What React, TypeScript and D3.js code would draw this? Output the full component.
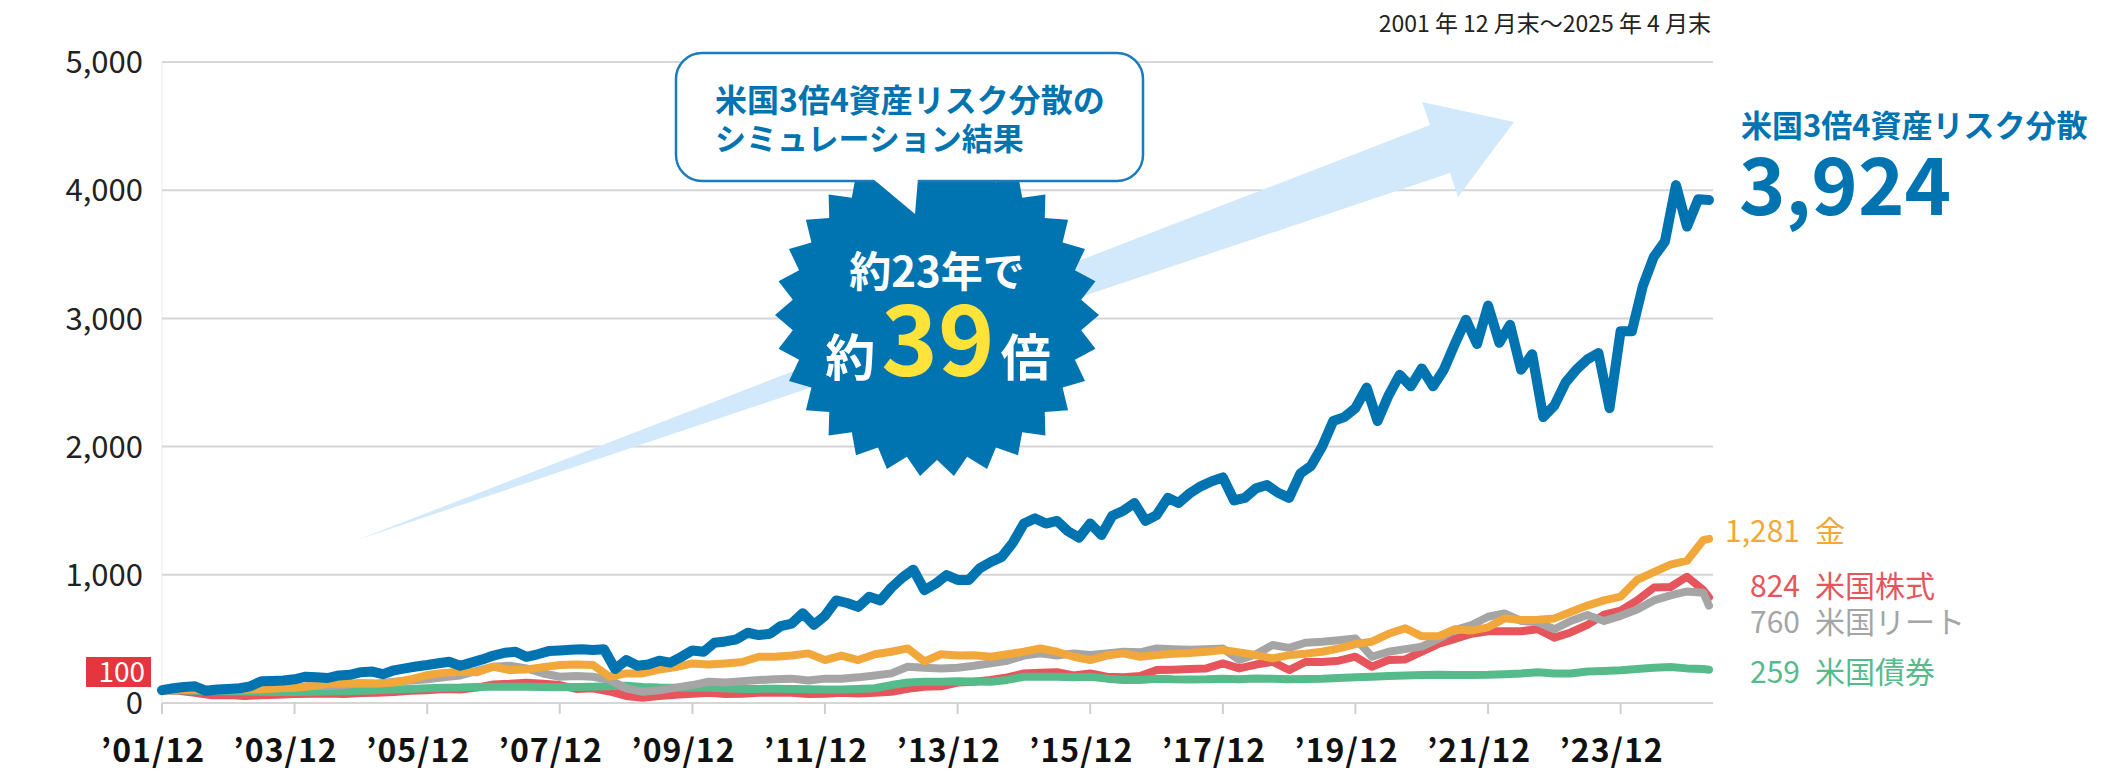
import { useRef, useEffect } from 'react'
import * as d3 from 'd3'

const W = 2104
const H = 780
const FONT = '"Noto Sans CJK JP", "Noto Sans", sans-serif'

// Axis
const yTicks = [0, 1000, 2000, 3000, 4000, 5000]
const tickYears = [2001, 2003, 2005, 2007, 2009, 2011, 2013, 2015, 2017, 2019, 2021, 2023]

// 米国3倍4資産リスク分散 (every 2 months, 2001/12 - 2025/04)
const riskParity = [
  100, 115, 125, 130, 95, 105, 110, 115, 130, 170, 172, 175, 185, 205, 200, 195, 215, 220, 240, 245,
  225, 255, 270, 285, 296, 310, 322, 290, 315, 340, 370, 392, 400, 360, 380, 405, 410, 415, 420, 413,
  419, 265, 335, 290, 300, 330, 315, 360, 410, 400, 470, 480, 497, 548, 530, 540, 600, 620, 700, 610,
  680, 800, 780, 750, 829, 800, 900, 980, 1040, 880, 930, 998, 960, 960, 1050, 1100, 1140, 1250, 1400, 1440,
  1400, 1420, 1340, 1290, 1400, 1310, 1460, 1500, 1560, 1420, 1466, 1600, 1560, 1635, 1690, 1730, 1760, 1580, 1600, 1674,
  1700, 1640, 1600, 1790, 1850, 2000, 2200, 2230, 2300, 2460, 2200, 2400, 2560, 2470, 2610, 2470, 2600, 2800, 2990, 2800,
  3100, 2810, 2950, 2600, 2720, 2230, 2320, 2500, 2600, 2680, 2730, 2300, 2900, 2900, 3250, 3480, 3600, 4040, 3716, 3930,
  3924,
]

// quarterly, 2001/12 - 2025/03, then 2025/04
const gold = [
  100, 105, 103, 105, 110, 112, 108, 115, 118, 130, 150, 152, 155, 152, 160, 185, 218, 235, 244, 240,
  283, 257, 262, 280, 296, 300, 296, 205, 231, 231, 260, 280, 309, 300, 309, 320, 361, 361, 370, 387,
  335, 370, 335, 380, 400, 426, 325, 380, 370, 372, 361, 380, 400, 426, 400, 361, 335, 370, 387, 361,
  374, 385, 390, 400, 413, 395, 374, 348, 374, 385, 400, 426, 460, 478, 540, 583, 520, 520, 575, 565,
  590, 660, 647, 650, 660, 710, 760, 800, 830, 960, 1020, 1080, 1110, 1271, 1281,
]
const usStocks = [
  100, 95, 80, 60, 62, 55, 60, 65, 70, 72, 75, 70, 78, 80, 85, 95, 100, 110, 105, 120,
  145, 150, 159, 150, 140, 110, 115, 90, 55, 40, 55, 65, 72, 80, 70, 72, 80, 82, 80, 70,
  72, 80, 75, 80, 88, 110, 127, 130, 160, 165, 179, 200, 231, 235, 240, 215, 231, 205, 200, 210,
  257, 260, 265, 270, 309, 270, 300, 322, 257, 320, 320, 330, 361, 283, 335, 340, 400, 460, 500, 540,
  560, 560, 560, 575, 510, 550, 610, 690, 720, 800, 900, 905, 985, 880, 824,
]
const usReit = [
  100, 105, 110, 100, 100, 100, 110, 115, 120, 135, 130, 140, 155, 150, 165, 175, 185, 200, 215, 250,
  283, 290, 270, 230, 205, 210, 205, 180, 114, 88, 100, 120, 140, 166, 160, 170, 179, 185, 190, 175,
  190, 190, 200, 215, 231, 283, 275, 270, 275, 290, 309, 330, 370, 387, 370, 387, 374, 387, 400, 395,
  426, 420, 415, 420, 426, 335, 380, 452, 430, 470, 478, 490, 504, 361, 400, 420, 440, 500, 569, 608,
  673, 699, 640, 630, 575, 640, 686, 640, 680, 730, 800, 840, 870, 860, 760,
]
const usBonds = [
  100, 100, 95, 95, 92, 90, 88, 85, 85, 88, 90, 92, 95, 100, 105, 110, 115, 118, 120, 125,
  127, 127, 127, 125, 123, 125, 127, 130, 135, 125, 120, 118, 120, 118, 115, 110, 110, 112, 110, 108,
  105, 105, 110, 115, 140, 160, 166, 166, 170, 168, 166, 180, 205, 205, 205, 200, 205, 190, 179, 180,
  190, 185, 183, 185, 190, 185, 192, 190, 185, 188, 190, 195, 200, 205, 210, 215, 218, 220, 218, 218,
  220, 225, 231, 240, 231, 230, 245, 250, 255, 265, 275, 280, 270, 265, 259,
]

const endValues = ['1,281', '824', '760', '259']
const endNames = ['金', '米国株式', '米国リート', '米国債券']

const BLUE = '#0073b1'
const ORANGE = '#f2a73b'
const RED = '#e6555c'
const GRAY = '#a5a5a5'
const GREEN = '#56bb8b'

export default function App() {
  const svgRef = useRef<SVGSVGElement>(null)

  useEffect(() => {
    if (!svgRef.current) return
    const svg = d3.select(svgRef.current)
    svg.selectAll('*').remove()
    svg.attr('width', W).attr('height', H)

    const start = new Date(2001, 11, 1)
    const end = new Date(2025, 3, 1)
    const x = d3.scaleTime().domain([start, end]).range([162, 1709])
    const y = d3.scaleLinear().domain([0, 5000]).range([703, 62])

    const biMonthly = riskParity.map((_, i) => new Date(2001, 11 + i * 2, 1))
    const quarterly = gold.map((_, i) => (i < gold.length - 1 ? new Date(2001, 11 + i * 3, 1) : end))

    // grid
    svg.append('line')
      .attr('x1', 162).attr('x2', 162).attr('y1', y(5000)).attr('y2', y(0))
      .attr('stroke', '#f2f2f2').attr('stroke-width', 1.5)
    svg.selectAll('.grid')
      .data(yTicks)
      .enter()
      .append('line')
      .attr('x1', 162)
      .attr('x2', 1713)
      .attr('y1', (d) => y(d))
      .attr('y2', (d) => y(d))
      .attr('stroke', '#d6d6d6')
      .attr('stroke-width', 2)

    svg.selectAll('.ylab')
      .data(yTicks)
      .enter()
      .append('text')
      .attr('x', 143)
      .attr('y', (d) => y(d))
      .attr('dy', '0.36em')
      .attr('text-anchor', 'end')
      .attr('font-family', FONT)
      .attr('font-size', 31)
      .attr('fill', '#222')
      .text((d) => d3.format(',')(d))

    // x ticks
    const tickDates = tickYears.map((yr) => new Date(yr, 11, 1))
    svg.selectAll('.xtick')
      .data(tickDates)
      .enter()
      .append('line')
      .attr('x1', (d) => x(d))
      .attr('x2', (d) => x(d))
      .attr('y1', y(0))
      .attr('y2', y(0) + 11)
      .attr('stroke', '#cfcfcf')
      .attr('stroke-width', 2)
    svg.selectAll('.xlab')
      .data(tickDates)
      .enter()
      .append('text')
      .attr('x', (d) => x(d) - 9)
      .attr('y', 762)
      .attr('text-anchor', 'middle')
      .attr('font-family', FONT)
      .attr('font-size', 32)
      .attr('font-weight', 700)
      .attr('letter-spacing', 1)
      .attr('fill', '#111')
      .text((d) => `’${String(d.getFullYear() % 100).padStart(2, '0')}/12`)

    // 100 badge
    svg.append('rect').attr('x', 86).attr('y', y(0) - 46).attr('width', 65).attr('height', 30).attr('fill', '#e5363f')
    svg.append('text')
      .attr('x', 145).attr('y', y(0) - 21).attr('text-anchor', 'end')
      .attr('font-family', FONT).attr('font-size', 28).attr('fill', '#fff')
      .text('100')

    // big arrow
    svg.append('path')
      .attr('d', 'M357,540 L1430,125 L1422,102 L1514,122 L1458,197 L1450,173 Z')
      .attr('fill', '#d2e8fb')

    // lines
    const draw = (values: number[], dates: Date[], color: string, width: number) => {
      const line = d3.line<number>().x((_, i) => x(dates[i])).y((d) => y(d))
      svg.append('path')
        .datum(values)
        .attr('fill', 'none')
        .attr('stroke', color)
        .attr('stroke-width', width)
        .attr('stroke-linejoin', 'round')
        .attr('stroke-linecap', 'round')
        .attr('d', line)
    }
    draw(usStocks, quarterly, RED, 8)
    draw(usBonds, quarterly, GREEN, 8)
    draw(usReit, quarterly, GRAY, 8)
    draw(gold, quarterly, ORANGE, 8)
    draw(riskParity, biMonthly, BLUE, 10)

    // starburst
    const cx = 937, cy = 315
    const pts = d3.range(60).map((i) => {
      const r = i % 2 === 0 ? 162 : 145
      const a = (i * Math.PI) / 30
      return [cx + r * Math.cos(a), cy + r * Math.sin(a)] as [number, number]
    })
    svg.append('polygon').attr('points', pts.map((p) => p.join(',')).join(' ')).attr('fill', BLUE)

    svg.append('text')
      .attr('x', cx).attr('y', 287).attr('text-anchor', 'middle')
      .attr('font-family', FONT).attr('font-size', 42).attr('font-weight', 700).attr('fill', '#fff')
      .text('約23年で')
    const big = svg.append('text')
      .attr('x', cx + 1).attr('y', 376).attr('text-anchor', 'middle')
      .attr('font-family', FONT).attr('font-weight', 700).attr('fill', '#fff')
    big.append('tspan').attr('font-size', 50).text('約')
    big.append('tspan').attr('font-size', 96).attr('fill', '#ffe23a').attr('dx', 6).text('39')
    big.append('tspan').attr('font-size', 50).attr('dx', 6).text('倍')

    // callout
    svg.append('rect')
      .attr('x', 676).attr('y', 53).attr('width', 467).attr('height', 128).attr('rx', 26)
      .attr('fill', '#fff').attr('stroke', '#1a7bbf').attr('stroke-width', 2.5)
    svg.append('polygon').attr('points', '872,178 918,178 915,214').attr('fill', '#fff')
    const callout = ['米国3倍4資産リスク分散の', 'シミュレーション結果']
    callout.forEach((t, i) => {
      svg.append('text')
        .attr('x', 715).attr('y', 112 + i * 38)
        .attr('font-family', FONT).attr('font-size', i === 0 ? 32 : 31).attr('font-weight', 700)
        .attr('fill', BLUE)
        .text(t)
    })

    // top-right period
    svg.append('text')
      .attr('x', 1711).attr('y', 32).attr('text-anchor', 'end')
      .attr('font-family', FONT).attr('font-size', 23).attr('fill', '#222')
      .text('2001 年 12 月末～2025 年 4 月末')

    // main label
    svg.append('text')
      .attr('x', 1741).attr('y', 137)
      .attr('font-family', FONT).attr('font-size', 31).attr('font-weight', 700)
      .attr('fill', BLUE)
      .text('米国3倍4資産リスク分散')
    svg.append('text')
      .attr('x', 1739).attr('y', 215)
      .attr('font-family', FONT).attr('font-size', 79).attr('font-weight', 700).attr('fill', BLUE)
      .text(d3.format(',')(riskParity[riskParity.length - 1]))

    // end labels
    const labelColors = [ORANGE, RED, GRAY, GREEN]
    const labelY = [542, 597, 633, 683]
    endValues.forEach((v, i) => {
      svg.append('text')
        .attr('x', 1800).attr('y', labelY[i]).attr('text-anchor', 'end')
        .attr('font-family', FONT).attr('font-size', 30).attr('fill', labelColors[i])
        .text(v)
      svg.append('text')
        .attr('x', 1815).attr('y', labelY[i])
        .attr('font-family', FONT).attr('font-size', 30).attr('fill', labelColors[i])
        .text(endNames[i])
    })
  }, [])

  return (
    <div style={{ position: 'absolute', left: 0, top: 0, width: W, height: H, background: '#fff' }}>
      <svg ref={svgRef} style={{ display: 'block' }} />
    </div>
  )
}
